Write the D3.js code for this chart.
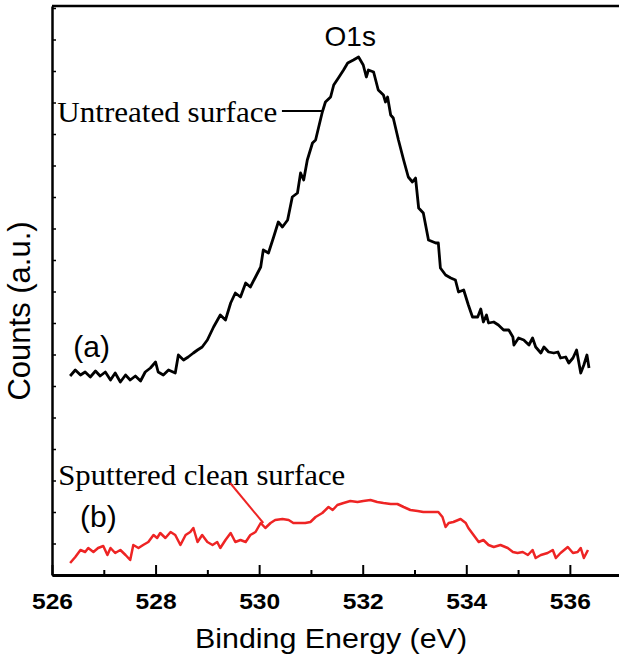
<!DOCTYPE html>
<html>
<head>
<meta charset="utf-8">
<script src="https://cdn.jsdelivr.net/npm/d3@7"></script>
<style>
  body { margin: 0; background: #fff; }
</style>
</head>
<body>
<svg width="619" height="661"></svg>
<script>
// O1s XPS spectra (counts in arbitrary units)
var energyA = [526.35, 526.45, 526.55, 526.64, 526.74, 526.84, 526.93, 527.03, 527.13, 527.22,
  527.32, 527.42, 527.51, 527.61, 527.71, 527.80, 527.90, 528.00, 528.05, 528.15,
  528.25, 528.38, 528.44, 528.54, 528.63, 528.73, 528.81, 528.90, 529.00, 529.12,
  529.25, 529.35, 529.45, 529.54, 529.64, 529.74, 529.83, 529.93, 530.03, 530.08,
  530.18, 530.28, 530.37, 530.45, 530.55, 530.64, 530.74, 530.80, 530.86, 530.93,
  531.03, 531.09, 531.15, 531.22, 531.28, 531.38, 531.44, 531.53, 531.63, 531.71,
  531.82, 531.92, 532.01, 532.07, 532.11, 532.21, 532.30, 532.40, 532.44, 532.48,
  532.54, 532.59, 532.69, 532.79, 532.88, 532.96, 533.02, 533.08, 533.17, 533.27,
  533.41, 533.46, 533.50, 533.60, 533.70, 533.79, 533.85, 533.95, 534.04, 534.12,
  534.22, 534.28, 534.33, 534.39, 534.43, 534.53, 534.62, 534.72, 534.82, 534.90,
  534.92, 535.01, 535.11, 535.21, 535.28, 535.34, 535.44, 535.50, 535.59, 535.69,
  535.77, 535.82, 535.92, 535.98, 536.06, 536.13, 536.21, 536.27, 536.33, 536.37];
var countsA = [197, 203, 198, 201, 196, 202, 197, 201, 193, 200,
  191, 198, 193, 197, 192, 201, 205, 211, 201, 198,
  203, 200, 218, 213, 216, 220, 223, 226, 233, 246,
  258, 253, 270, 280, 276, 290, 286, 296, 306, 323,
  320, 336, 351, 346, 353, 376, 380, 400, 393, 413,
  430, 433, 446, 461, 471, 476, 488, 495, 503, 510,
  513, 516, 508, 496, 503, 501, 483, 478, 471, 476,
  458, 455, 433, 413, 396, 391, 395, 365, 360, 333,
  330, 330, 305, 298, 295, 293, 281, 283, 268, 256,
  256, 264, 251, 258, 250, 251, 248, 243, 243, 236,
  228, 235, 233, 228, 235, 226, 220, 226, 221, 220,
  221, 215, 216, 210, 215, 223, 200, 208, 218, 205];

var energyB = [526.35, 526.45, 526.55, 526.64, 526.70, 526.80, 526.89, 526.99, 527.07, 527.13,
  527.22, 527.32, 527.42, 527.51, 527.57, 527.67, 527.76, 527.86, 527.96, 528.03,
  528.09, 528.19, 528.29, 528.38, 528.48, 528.58, 528.67, 528.73, 528.81, 528.90,
  529.00, 529.10, 529.19, 529.25, 529.35, 529.45, 529.54, 529.64, 529.74, 529.83,
  529.93, 530.03, 530.12, 530.22, 530.31, 530.45, 530.57, 530.66, 530.80, 530.89,
  530.99, 531.09, 531.22, 531.34, 531.42, 531.51, 531.63, 531.76, 531.90, 532.01,
  532.15, 532.28, 532.40, 532.54, 532.67, 532.79, 532.92, 533.06, 533.17, 533.31,
  533.46, 533.54, 533.60, 533.66, 533.75, 533.89, 533.99, 534.04, 534.14, 534.24,
  534.33, 534.43, 534.53, 534.66, 534.80, 534.90, 534.99, 535.09, 535.19, 535.28,
  535.34, 535.44, 535.57, 535.67, 535.73, 535.82, 535.96, 536.06, 536.15, 536.21,
  536.27, 536.35];
var countsB = [10, 16, 23, 21, 25, 21, 25, 27, 18, 25,
  20, 23, 18, 13, 28, 25, 28, 31, 38, 35,
  40, 35, 41, 38, 28, 38, 41, 45, 31, 38,
  31, 28, 31, 25, 33, 40, 31, 33, 31, 38,
  41, 50, 45, 50, 53, 54, 53, 50, 50, 50,
  51, 56, 60, 66, 63, 68, 70, 72, 71, 72,
  73, 71, 70, 69, 69, 66, 63, 62, 61, 61,
  61, 56, 46, 50, 51, 54, 50, 45, 38, 31,
  33, 28, 26, 28, 25, 21, 20, 21, 18, 23,
  15, 18, 20, 23, 15, 20, 26, 20, 21, 25,
  15, 23];

var majorTicks = [526, 528, 530, 532, 534, 536];
var minorTicks = [527, 529, 531, 533, 535];
var yTicks = d3.range(-2, 567, 31.5);

var svg = d3.select("svg"),
  width = +svg.attr("width"),
  height = +svg.attr("height");

var sans = "'Liberation Sans', Arial, Helvetica, sans-serif";
var serif = "'Liberation Serif', 'Times New Roman', serif";

var x = d3.scaleLinear().domain([526, 537.2]).range([52, 632]);
var y = d3.scaleLinear().domain([-2, 567]).range([575, 6]);

// frame: top border
svg.append("line")
  .attr("x1", x(526)).attr("x2", x(537.2))
  .attr("y1", y(567)).attr("y2", y(567))
  .attr("stroke", "#000").attr("stroke-width", 2.5);

// y axis, small inward ticks, no labels
var yAxis = svg.append("g")
  .attr("transform", "translate(" + x(526) + ",0)")
  .call(d3.axisLeft(y).tickValues(yTicks).tickSize(-4).tickSizeOuter(0).tickFormat(""));
yAxis.select(".domain").attr("stroke-width", 2.5);
yAxis.selectAll(".tick line").attr("stroke-width", 1.5);

// x axis, minor ticks
var xMinor = svg.append("g")
  .attr("transform", "translate(0," + y(-2) + ")")
  .call(d3.axisBottom(x).tickValues(minorTicks).tickSize(-5).tickSizeOuter(0).tickFormat(""));
xMinor.select(".domain").remove();
xMinor.selectAll(".tick line").attr("stroke-width", 2);

// x axis, major ticks with labels
var xAxis = svg.append("g")
  .attr("transform", "translate(0," + y(-2) + ")")
  .call(d3.axisBottom(x).tickValues(majorTicks).tickSize(-10).tickSizeOuter(0).tickFormat(d3.format("d")));
xAxis.select(".domain").attr("stroke-width", 3);
xAxis.selectAll(".tick line").attr("stroke-width", 2);
xAxis.selectAll(".tick text")
  .attr("y", 34)
  .attr("dy", 0)
  .attr("fill", "#000")
  .attr("textLength", 41)
  .attr("lengthAdjust", "spacingAndGlyphs")
  .style("font-family", sans)
  .style("font-size", "22px")
  .style("font-weight", "bold");

// axis titles
svg.append("text")
  .attr("x", 331)
  .attr("y", 648)
  .attr("text-anchor", "middle")
  .attr("textLength", 272)
  .attr("lengthAdjust", "spacingAndGlyphs")
  .style("font-family", sans)
  .style("font-size", "28px")
  .text("Binding Energy (eV)");

svg.append("text")
  .attr("transform", "translate(30,311) rotate(-90)")
  .attr("text-anchor", "middle")
  .style("font-family", sans)
  .style("font-size", "31px")
  .text("Counts (a.u.)");

// spectra
var line = d3.line()
  .x(function (d) { return x(d[0]); })
  .y(function (d) { return y(d[1]); });

svg.append("path")
  .datum(d3.zip(energyB, countsB))
  .attr("d", line)
  .attr("fill", "none")
  .attr("stroke", "#ee2424")
  .attr("stroke-width", 2.5)
  .attr("stroke-linejoin", "round");

svg.append("path")
  .datum(d3.zip(energyA, countsA))
  .attr("d", line)
  .attr("fill", "none")
  .attr("stroke", "#000")
  .attr("stroke-width", 2.8)
  .attr("stroke-linejoin", "round");

// labels and annotations
svg.append("text")
  .attr("x", x(531.76))
  .attr("y", y(527))
  .attr("text-anchor", "middle")
  .style("font-family", sans)
  .style("font-size", "28px")
  .text("O1s");

svg.append("text")
  .attr("x", x(530.35))
  .attr("y", y(451))
  .attr("text-anchor", "end")
  .attr("textLength", 220)
  .attr("lengthAdjust", "spacingAndGlyphs")
  .style("font-family", serif)
  .style("font-size", "30px")
  .text("Untreated surface");

svg.append("line")
  .attr("x1", x(530.44)).attr("x2", x(531.22))
  .attr("y1", y(462)).attr("y2", y(462))
  .attr("stroke", "#000").attr("stroke-width", 2);

svg.append("text")
  .attr("x", x(526.12))
  .attr("y", y(88))
  .attr("textLength", 287)
  .attr("lengthAdjust", "spacingAndGlyphs")
  .style("font-family", serif)
  .style("font-size", "30px")
  .text("Sputtered clean surface");

svg.append("line")
  .attr("x1", x(529.44)).attr("x2", x(530.08))
  .attr("y1", y(90)).attr("y2", y(50))
  .attr("stroke", "#ee2424").attr("stroke-width", 2);

svg.append("text")
  .attr("x", x(526.41))
  .attr("y", y(216))
  .style("font-family", sans)
  .style("font-size", "30px")
  .text("(a)");

svg.append("text")
  .attr("x", x(526.54))
  .attr("y", y(46))
  .style("font-family", sans)
  .style("font-size", "30px")
  .text("(b)");
</script>
</body>
</html>
